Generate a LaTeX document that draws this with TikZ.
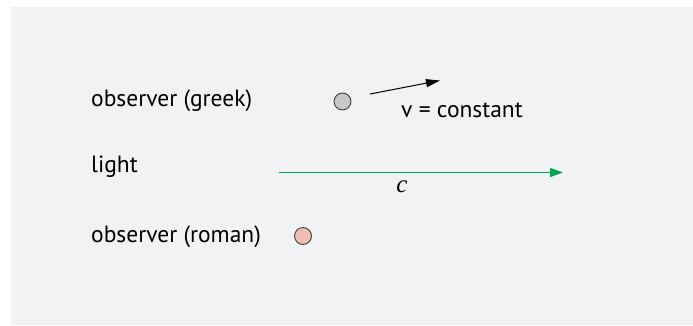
\documentclass[tikz,border=0pt]{standalone}
\usepackage{fontspec}
\setmainfont{PT Sans}
\newfontfamily\cfont{Liberation Serif}
\usetikzlibrary{arrows.meta}
\definecolor{bgray}{HTML}{F1F2F4}
\definecolor{lgreen}{HTML}{00A651}
\definecolor{ggray}{HTML}{C8C8C8}
\definecolor{gpink}{HTML}{F2BDB7}
\tikzset{
  lbl/.style={anchor=west, inner sep=0pt, font=\fontsize{23.5}{26}\selectfont},
  dot/.style={circle, draw=black!75, line width=0.9pt, minimum size=17pt, inner sep=0pt},
}
\begin{document}
\begin{tikzpicture}[x=1pt,y=-1pt]
\useasboundingbox (0,0) rectangle (693,325);
\fill[bgray] (11,7) rectangle (693,325);
\node[lbl] (tg) at (91,100.5) {observer (greek)};
\node[lbl] (tl) at (91,167) {light};
\node[lbl] (tr) at (91,237) {observer (roman)};
\node[dot, fill=ggray] (og) at (342.5,101.5) {};
\node[dot, fill=gpink] (or) at (303,236) {};
\coordinate (vs) at (370,94);
\coordinate (ve) at (440,80.5);
\draw[line width=1pt, -{Triangle[length=14pt,width=8pt]}] (vs) -- (ve);
\node[lbl] (tv) at (401,110) {v = constant};
\coordinate (cs) at (279,172.5);
\coordinate (ce) at (563,172.5);
\draw[lgreen, line width=1.3pt, -{Triangle[length=13pt,width=9pt]}] (cs) -- (ce);
\node[inner sep=0pt, font=\cfont\itshape\fontsize{25}{27}\selectfont] (tc) at (402,187) {c};
\end{tikzpicture}
\end{document}
